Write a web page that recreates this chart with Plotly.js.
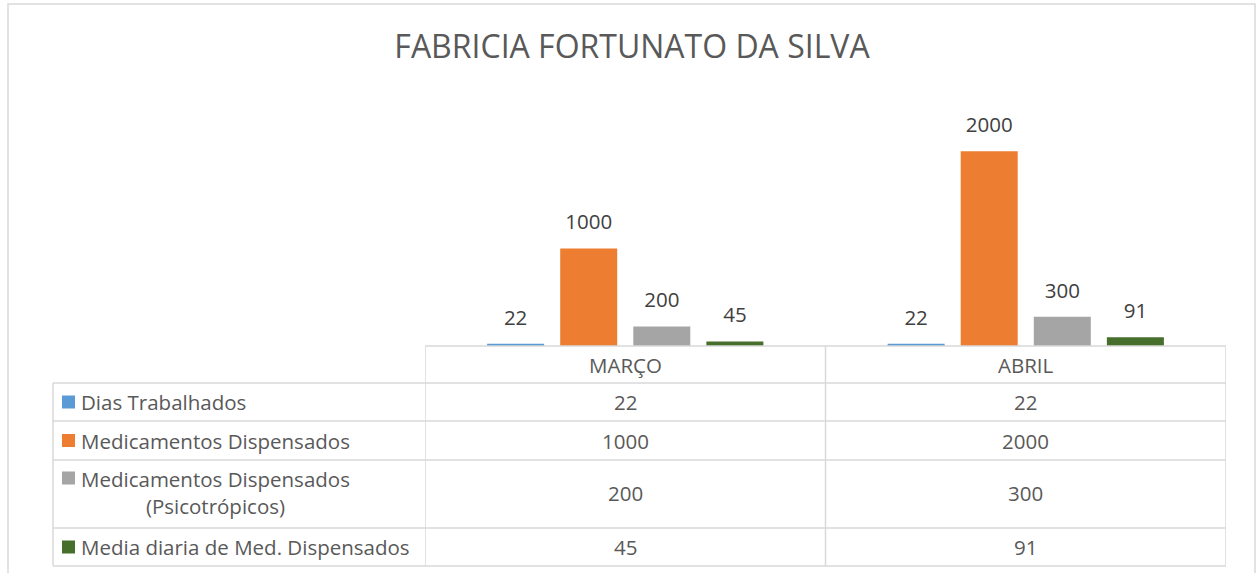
<!DOCTYPE html>
<html>
<head>
<meta charset="utf-8">
<script src="https://cdn.plot.ly/plotly-3.0.1.min.js"></script>
<style>
  html, body { margin: 0; padding: 0; background: #fff; }
  #chart { width: 1258px; height: 573px; }
</style>
</head>
<body>
<div id="chart"></div>
<script>
// ---- data ----
var categories = ['MARÇO', 'ABRIL'];
var seriesNames = [
  'Dias Trabalhados',
  'Medicamentos Dispensados',
  'Medicamentos Dispensados<br>(Psicotrópicos)',
  'Media diaria de Med. Dispensados'
];
var diasTrabalhados = [22, 22];
var medicamentosDispensados = [1000, 2000];
var medicamentosPsicotropicos = [200, 300];
var mediaDiaria = [45, 91];
var seriesColors = ['#5B9BD5', '#ED7D31', '#A5A5A5', '#466F2B'];
var chartTitle = 'FABRICIA FORTUNATO DA SILVA';

var seriesValues = [diasTrabalhados, medicamentosDispensados, medicamentosPsicotropicos, mediaDiaria];

// ---- layout geometry (pixels) ----
var W = 1258, H = 573;
var L = 425, R = 32, T = 85, B = 227;
var PW = W - L - R, PH = H - T - B;
function px(x) { return (x - L) / PW; }
function py(y) { return (H - B - y) / PH; }

var FONT = 'Open Sans, sans-serif';
var TXT = '#595959';
var GRID = '#d9d9d9';
var TS = 20.5;

var BARGAP = 0.27;

var traces = [];
seriesValues.forEach(function (vals, i) {
  traces.push({
    type: 'bar',
    x: categories,
    y: vals,
    name: seriesNames[i],
    marker: { color: seriesColors[i] },
    offsetgroup: 'g' + i,
    hoverinfo: 'skip',
    showlegend: false
  });
});
seriesValues.forEach(function (vals, i) {
  traces.push({
    type: 'scatter',
    mode: 'markers+text',
    x: categories,
    y: vals,
    text: vals.map(String),
    textposition: 'top center',
    textfont: { family: FONT, size: 20.5, color: '#404040' },
    marker: { size: 21, opacity: 0, color: seriesColors[i] },
    offsetgroup: 'g' + i,
    cliponaxis: false,
    hoverinfo: 'skip',
    showlegend: false
  });
});

// ---- table ----
var rowLines = [383, 421, 460, 528, 566];
var rowCenters = [402, 440.5, 493, 547];
var headerTop = 346, headerCenter = 365;
var tableLeft = 53;

var shapes = [];
var annotations = [];
var lineStyle = { color: GRID, width: 1.5 };

// outer chart frame
shapes.push({ type: 'rect', xref: 'paper', yref: 'paper',
  x0: px(8), x1: px(1255), y0: py(4), y1: py(590),
  line: { color: GRID, width: 1.5 }, fillcolor: 'rgba(0,0,0,0)' });

// header top line (over category columns only)
shapes.push({ type: 'line', xref: 'x', yref: 'paper',
  x0: -0.5, x1: categories.length - 0.5, y0: py(headerTop), y1: py(headerTop), line: lineStyle });
// row lines
rowLines.forEach(function (y) {
  shapes.push({ type: 'line', xref: 'paper', yref: 'paper',
    x0: px(tableLeft), x1: 1, y0: py(y), y1: py(y), line: lineStyle });
});
// vertical lines at category boundaries
for (var c = 0; c <= categories.length; c++) {
  shapes.push({ type: 'line', xref: 'x', yref: 'paper',
    x0: c - 0.5, x1: c - 0.5, y0: py(headerTop), y1: py(566), line: lineStyle });
}
// left column edge
shapes.push({ type: 'line', xref: 'paper', yref: 'paper',
  x0: px(tableLeft), x1: px(tableLeft), y0: py(rowLines[0]), y1: py(566), line: lineStyle });

// header labels
categories.forEach(function (cat) {
  annotations.push({ xref: 'x', yref: 'paper', x: cat, y: py(headerCenter),
    xanchor: 'center', yanchor: 'middle',
    text: cat, showarrow: false, font: { family: FONT, size: TS, color: TXT } });
});

// rows
seriesNames.forEach(function (name, i) {
  var yc = rowCenters[i];
  var firstLineY = (name.indexOf('<br>') >= 0) ? yc - 15 : yc;
  // legend key
  shapes.push({ type: 'rect', xref: 'paper', yref: 'paper',
    x0: px(62), x1: px(75), y0: py(firstLineY - 6.5), y1: py(firstLineY + 6.5),
    fillcolor: seriesColors[i], line: { width: 0 } });
  annotations.push({ xref: 'paper', yref: 'paper', x: px(79), y: py(yc),
    xanchor: 'left', yanchor: 'middle', align: 'center',
    text: name, showarrow: false, font: { family: FONT, size: TS, color: TXT } });
  categories.forEach(function (cat, j) {
    annotations.push({ xref: 'x', yref: 'paper', x: cat, y: py(yc),
      xanchor: 'center', yanchor: 'middle',
      text: String(seriesValues[i][j]), showarrow: false,
      font: { family: FONT, size: TS, color: TXT } });
  });
});

var layout = {
  width: W, height: H,
  margin: { l: L, r: R, t: T, b: B, pad: 0 },
  paper_bgcolor: '#ffffff', plot_bgcolor: '#ffffff',
  title: { text: chartTitle, x: 632 / W, xref: 'container', xanchor: 'center', y: 1 - 47 / H, yref: 'container', yanchor: 'middle',
    font: { family: FONT, size: 32, color: TXT } },
  barmode: 'group',
  bargap: BARGAP,
  bargroupgap: 0.22,
  scattermode: 'group',
  scattergap: BARGAP,
  showlegend: false,
  xaxis: { type: 'category', showticklabels: false, showgrid: false, zeroline: false, showline: false, ticks: '',
    range: [-0.5, categories.length - 0.5] },
  yaxis: { range: [0, 2680], showticklabels: false, showgrid: false, zeroline: false, showline: false, ticks: '' },
  shapes: shapes,
  annotations: annotations
};

Plotly.newPlot('chart', traces, layout, { displayModeBar: false, staticPlot: true });
</script>
</body>
</html>
